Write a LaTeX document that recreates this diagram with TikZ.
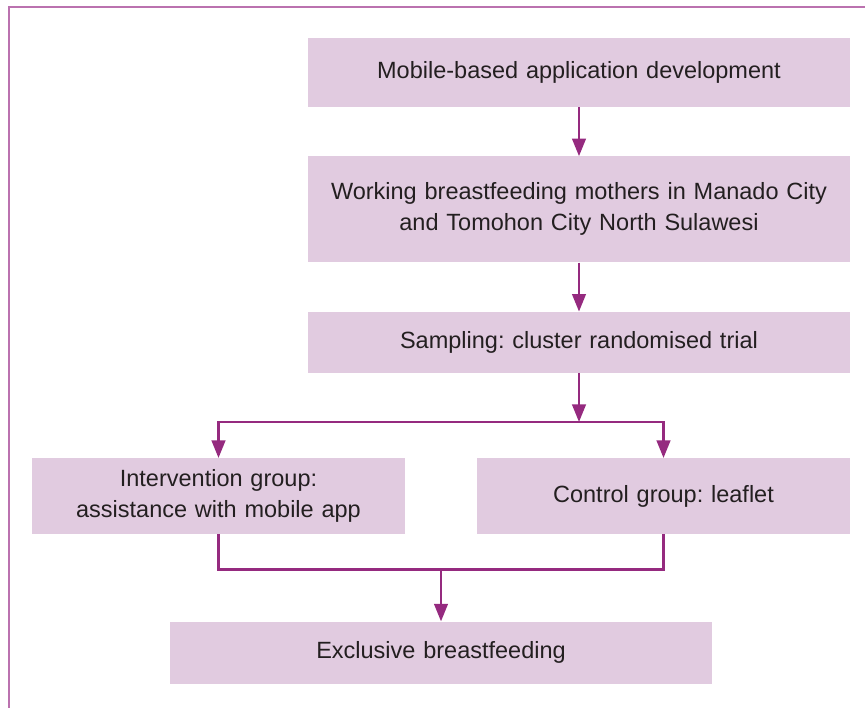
\documentclass[tikz,border=0pt]{standalone}
\usepackage{fontspec}
\setmainfont{Liberation Sans}
\usepackage{tikz}
\usetikzlibrary{positioning,arrows.meta}
\frenchspacing
\definecolor{boxFill}{HTML}{E1CBE0}
\definecolor{arrowPurple}{HTML}{952A7F}
\definecolor{framePurple}{HTML}{BB72AF}
\definecolor{textGrey}{HTML}{231F20}
\tikzstyle{process} = [rectangle, minimum width=542pt, text width=520pt, align=center,
inner sep=0pt, fill=boxFill, text=textGrey, font=\fontsize{23.5}{31}\selectfont]
\tikzstyle{group} = [process, minimum width=373pt, text width=360pt, minimum height=76pt]
\tikzstyle{flowLine} = [line width=2.5pt, draw=arrowPurple]
\tikzstyle{flowArrow} = [flowLine, -{Triangle[width=13.5pt,length=17.5pt]}]
\tikzstyle{frameLine} = [line width=2.6pt, draw=framePurple]

\begin{document}
\begin{tikzpicture}
		\useasboundingbox (0,0) rectangle (865pt,-708pt);
		\draw[frameLine] (865pt,-7pt) -| (9pt,-708pt);
		%blocks
		\node[process, minimum height=69pt] (mobile) at (579pt,-72.5pt) {Mobile-based application development};
		\node[process, minimum height=106pt, below=49pt of mobile] (mothers) {Working breastfeeding mothers in Manado City\\and Tomohon City North Sulawesi};
		\node[process, minimum height=61pt, below=49pt of mothers] (sampling) {Sampling: cluster randomised trial};
		\node[group, below=85pt of sampling, xshift=-360.5pt] (intervention) {Intervention group:\\assistance with mobile app};
		\node[group, below=85pt of sampling, xshift=84.5pt] (control) {Control group: leaflet};
		\node[process, minimum height=62pt, below=87pt of intervention, xshift=222.5pt] (exclusive) {Exclusive breastfeeding};
		\coordinate[below=49pt of sampling.south] (split);
		\coordinate[below=35pt of intervention.south] (merge);
		
		%arrows
		\draw[flowArrow] (mobile) -- (mothers);
		\draw[flowArrow] (mothers) -- (sampling);
		\draw[flowArrow] (sampling) -- (split);
		\draw[flowArrow] (split) -| (intervention);
		\draw[flowArrow] (split) -| (control);
		\draw[flowLine] (intervention) |- (merge -| control) -- (control);
		\draw[flowArrow] (merge -| exclusive) -- (exclusive);
\end{tikzpicture}
\end{document}
